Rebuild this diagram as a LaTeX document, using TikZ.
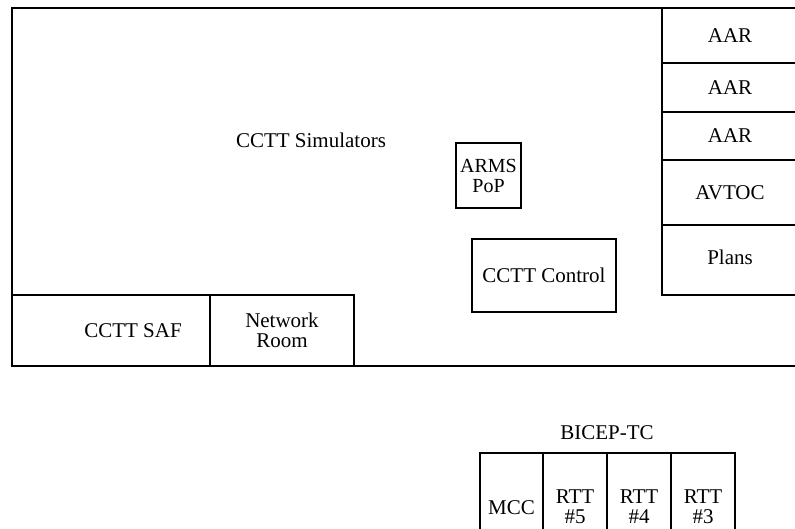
\documentclass[tikz,border=0pt]{standalone}
\usepackage{fontspec}
\setmainfont{Liberation Serif}
\begin{document}
\begin{tikzpicture}[x=1pt,y=-1pt,
  room/.style={draw, line width=1.2pt, inner sep=0pt, outer sep=0pt, anchor=north west, align=center, font=\fontsize{21}{20}\selectfont},
  lbl/.style={inner sep=0pt, align=center, font=\fontsize{21}{20}\selectfont}]
\useasboundingbox (0,0) rectangle (795,529);
% main area
\node[room, minimum width=786pt, minimum height=358pt] (sim) at (12,8) {};
\node[lbl] (simlbl) at (311,140) {CCTT Simulators};
% right column
\node[room, minimum width=136pt, minimum height=55pt] (aar1) at (662,8) {AAR};
\node[room, minimum width=136pt, minimum height=49pt] (aar2) at (662,63) {AAR};
\node[room, minimum width=136pt, minimum height=48pt] (aar3) at (662,112) {AAR};
\node[room, minimum width=136pt, minimum height=65pt] (avtoc) at (662,160) {AVTOC};
\node[room, minimum width=136pt, minimum height=70pt, text depth=6pt] (plans) at (662,225) {Plans};
% bottom left rooms
\node[room, minimum width=198pt, minimum height=71pt] (saf) at (12,295) {};
\node[lbl] (saflbl) at (133,331) {CCTT SAF};
\node[room, minimum width=144pt, minimum height=71pt] (net) at (210,295) {Network\\Room};
% inner boxes
\node[room, minimum width=65pt, minimum height=65pt, font=\fontsize{20}{20}\selectfont] (arms) at (456,143) {ARMS\\PoP};
\node[room, minimum width=144pt, minimum height=73pt] (ctrl) at (472,239) {CCTT Control};
% BICEP-TC
\node[lbl] (bicep) at (607,433) {BICEP-TC};
\node[room, minimum width=63pt, minimum height=110pt] (mcc) at (480,453) {MCC};
\node[room, minimum width=64pt, minimum height=108pt] (rtt5) at (543,453) {RTT\\\#5};
\node[room, minimum width=64pt, minimum height=108pt] (rtt4) at (607,453) {RTT\\\#4};
\node[room, minimum width=64pt, minimum height=108pt] (rtt3) at (671,453) {RTT\\\#3};
\end{tikzpicture}
\end{document}
